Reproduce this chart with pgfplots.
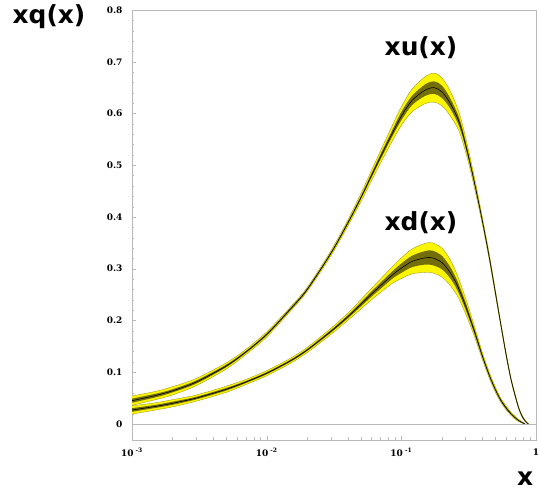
\documentclass[border=0pt]{standalone}
\usepackage{fontspec}
\setmainfont{Liberation Serif}
\newfontfamily\labfont{DejaVu Sans}
\newfontfamily\tickfont{DejaVu Serif}
\usepackage{pgfplots}
\pgfplotsset{compat=1.18}
\usepackage{pgfplotstable}
\usepgfplotslibrary{fillbetween}

\definecolor{bandyellow}{RGB}{250,245,0}
\definecolor{bandolive}{RGB}{115,110,10}
\definecolor{edgeolive}{RGB}{150,140,20}

% x, central value, outer (yellow) half-width, inner (dark) half-width
\pgfplotstableread{
x      c     e1     e2
0.001  0.045 0.009  0.004
0.0015 0.055 0.008  0.0035
0.002  0.064 0.008  0.003
0.003  0.081 0.007  0.003
0.005  0.112 0.006  0.0025
0.007  0.139 0.005  0.002
0.01   0.173 0.005  0.002
0.015  0.222 0.004  0.002
0.02   0.260 0.004  0.002
0.03   0.330 0.005  0.002
0.04   0.388 0.006  0.0025
0.05   0.437 0.008  0.003
0.06   0.480 0.010  0.004
0.07   0.516 0.012  0.005
0.085  0.560 0.015  0.006
0.1    0.595 0.018  0.008
0.12   0.625 0.022  0.009
0.15   0.645 0.026  0.011
0.175  0.650 0.028  0.012
0.2    0.642 0.027  0.012
0.23   0.620 0.024  0.010
0.27   0.582 0.018  0.008
0.31   0.525 0.013  0.006
0.35   0.465 0.010  0.004
0.4    0.392 0.007  0.003
0.45   0.322 0.006  0.0025
0.5    0.253 0.005  0.002
0.55   0.190 0.004  0.002
0.6    0.134 0.004  0.002
0.65   0.088 0.003  0.0015
0.7    0.055 0.003  0.0015
0.75   0.028 0.002  0.001
0.8    0.012 0.002  0.001
0.85   0.003 0.001  0.0005
0.88   0.0   0.0    0.0
}\xutab

\pgfplotstableread{
x      c     e1     e2
0.001  0.027 0.008  0.0035
0.0015 0.034 0.007  0.003
0.002  0.040 0.007  0.003
0.003  0.050 0.006  0.0025
0.005  0.067 0.006  0.0025
0.007  0.081 0.005  0.002
0.01   0.098 0.005  0.002
0.015  0.122 0.005  0.002
0.02   0.143 0.005  0.002
0.03   0.179 0.006  0.0025
0.04   0.207 0.007  0.003
0.05   0.231 0.009  0.004
0.06   0.251 0.011  0.005
0.07   0.267 0.013  0.006
0.085  0.287 0.016  0.007
0.1    0.301 0.020  0.009
0.12   0.314 0.024  0.011
0.15   0.321 0.028  0.013
0.17   0.321 0.029  0.014
0.2    0.312 0.028  0.013
0.23   0.293 0.025  0.011
0.26   0.268 0.020  0.009
0.3    0.228 0.015  0.007
0.35   0.178 0.010  0.005
0.4    0.131 0.007  0.003
0.45   0.094 0.006  0.0025
0.5    0.066 0.005  0.002
0.55   0.045 0.004  0.002
0.6    0.031 0.004  0.002
0.65   0.020 0.003  0.0015
0.7    0.012 0.003  0.001
0.75   0.006 0.002  0.001
0.8    0.002 0.001  0.0005
0.83   0.0   0.0    0.0
}\xdtab

\begin{document}
\begin{tikzpicture}
\begin{axis}[
  at={(132bp,50bp)}, anchor=south west,
  scale only axis, width=404bp, height=430bp,
  xmode=log, xmin=1e-3, xmax=1,
  ymin=-0.031, ymax=0.8,
  xtick={0.001,0.01,0.1,1},
  xticklabels={{10\textsuperscript{ -3}},{10\textsuperscript{ -2}},{10\textsuperscript{ -1}},1},
  ytick={0,0.1,0.2,0.3,0.4,0.5,0.6,0.7,0.8},
  yticklabels={0,0.1,0.2,0.3,0.4,0.5,0.6,0.7,0.8},
  minor y tick num=4,
  xtick pos=bottom, ytick pos=left,
  tick align=inside,
  major tick length=4bp, minor tick length=2.5bp,
  axis line style={gray!55},
  tick style={gray!55},
  tick label style={font=\tickfont\fontsize{9}{10}\selectfont\bfseries},
  yticklabel style={xshift=-6bp},
  xticklabel style={yshift=-5bp},
  every axis plot/.append style={smooth, tension=0.5},
]
\addplot[gray!55, line width=0.6pt, sharp plot] coordinates {(0.001,0) (1,0)};

% xu(x)
\addplot[draw=edgeolive, line width=0.3pt, name path=uhi] table[x=x, y expr=\thisrow{c}+\thisrow{e1}] {\xutab};
\addplot[draw=edgeolive, line width=0.3pt, name path=ulo] table[x=x, y expr=\thisrow{c}-\thisrow{e1}] {\xutab};
\addplot[bandyellow] fill between[of=uhi and ulo];
\addplot[draw=none, name path=uhi2] table[x=x, y expr=\thisrow{c}+\thisrow{e2}] {\xutab};
\addplot[draw=none, name path=ulo2] table[x=x, y expr=\thisrow{c}-\thisrow{e2}] {\xutab};
\addplot[bandolive] fill between[of=uhi2 and ulo2];
\addplot[black, line width=0.6pt] table[x=x, y=c] {\xutab};

% xd(x)
\addplot[draw=edgeolive, line width=0.3pt, name path=dhi] table[x=x, y expr=\thisrow{c}+\thisrow{e1}] {\xdtab};
\addplot[draw=edgeolive, line width=0.3pt, name path=dlo] table[x=x, y expr=\thisrow{c}-\thisrow{e1}] {\xdtab};
\addplot[bandyellow] fill between[of=dhi and dlo];
\addplot[draw=none, name path=dhi2] table[x=x, y expr=\thisrow{c}+\thisrow{e2}] {\xdtab};
\addplot[draw=none, name path=dlo2] table[x=x, y expr=\thisrow{c}-\thisrow{e2}] {\xdtab};
\addplot[bandolive] fill between[of=dhi2 and dlo2];
\addplot[black, line width=0.6pt] table[x=x, y=c] {\xdtab};
\end{axis}

\node[font=\labfont\bfseries\fontsize{25}{26}\selectfont] at (49bp,473bp) {xq(x)};
\node[font=\labfont\bfseries\fontsize{25}{26}\selectfont] at (421bp,442bp) {xu(x)};
\node[font=\labfont\bfseries\fontsize{25}{26}\selectfont] at (421bp,267bp) {xd(x)};
\node[font=\labfont\bfseries\fontsize{25}{26}\selectfont, anchor=west, inner sep=0pt] at (517bp,11bp) {x};
\pgfresetboundingbox
\path[use as bounding box] (0bp,0bp) rectangle (539bp,490bp);
\end{tikzpicture}
\end{document}
